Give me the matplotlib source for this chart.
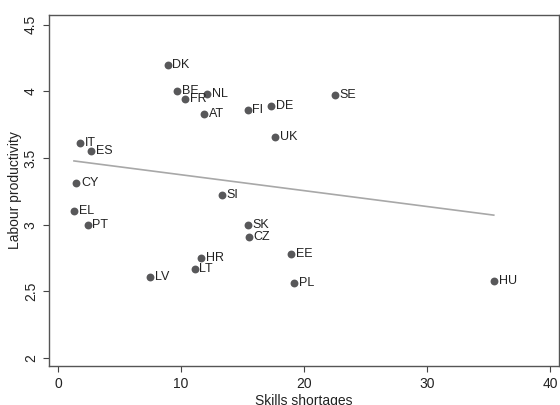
import numpy as np
import matplotlib
matplotlib.use("Agg")
import matplotlib.pyplot as plt

plt.rcParams["font.family"] = ["Liberation Sans", "DejaVu Sans"]

countries = ["DK", "BE", "FR", "NL", "AT", "FI", "DE", "SE", "UK", "IT", "ES", "CY",
             "SI", "EL", "PT", "SK", "CZ", "HR", "LT", "LV", "EE", "PL", "HU"]
skills = [8.9, 9.7, 10.3, 12.1, 11.9, 15.4, 17.3, 22.5, 17.6, 1.8, 2.7, 1.5,
          13.3, 1.3, 2.4, 15.4, 15.5, 11.6, 11.1, 7.5, 18.9, 19.2, 35.4]
productivity = [4.20, 4.00, 3.94, 3.98, 3.83, 3.86, 3.89, 3.97, 3.66, 3.61, 3.55, 3.31,
                3.22, 3.10, 3.00, 3.00, 2.91, 2.75, 2.67, 2.61, 2.78, 2.56, 2.58]

fig = plt.figure(figsize=(5.6, 4.05), dpi=100)
ax = fig.add_axes([49 / 560, 1 - 366 / 405, 510 / 560, 351 / 405])

# linear fit across the observed range
slope, intercept = np.polyfit(skills, productivity, 1)
xs = np.array([min(skills), max(skills)])
ax.plot(xs, slope * xs + intercept, color="#a8a8a8", lw=1.2, zorder=1)

ax.scatter(skills, productivity, s=32, color="#58585a", zorder=2, linewidths=0)
for name, x, y in zip(countries, skills, productivity):
    ax.annotate(name, (x, y), xytext=(3.5, 0), textcoords="offset points",
                va="center", ha="left", fontsize=9, color="#222222")

ax.set_xlim(-0.73, 40.7)
ax.set_ylim(1.94, 4.573)
ax.set_xticks([0, 10, 20, 30, 40])
ax.set_yticks([2, 2.5, 3, 3.5, 4, 4.5])
ax.set_yticklabels(["2", "2.5", "3", "3.5", "4", "4.5"], rotation=90, va="center")
ax.tick_params(direction="out", length=4.5, width=0.8, colors="#444444",
               labelcolor="#222222", labelsize=10)
for sp in ax.spines.values():
    sp.set_color("#555555")
    sp.set_linewidth(1.0)

ax.set_xlabel("Skills shortages", fontsize=10, color="#222222", labelpad=2)
ax.set_ylabel("Labour productivity", fontsize=10, color="#222222", labelpad=1)

fig.savefig("out.png", dpi=100)
